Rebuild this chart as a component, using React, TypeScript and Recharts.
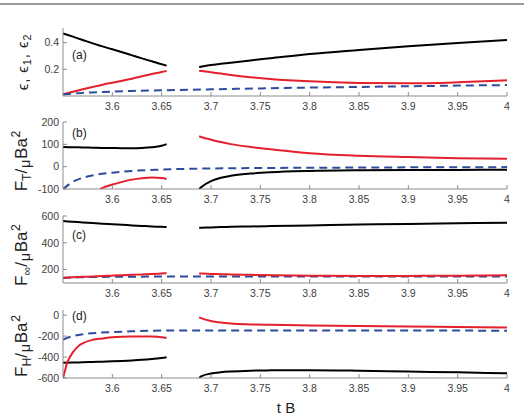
import React from 'react';
import { LineChart, Line, XAxis, YAxis } from 'recharts';

// Shared abscissae (t B)
const tLeft = [3.55, 3.56, 3.57, 3.58, 3.59, 3.6, 3.61, 3.62, 3.63, 3.64, 3.65, 3.655];
const tRight = [3.688, 3.69, 3.7, 3.71, 3.72, 3.74, 3.76, 3.8, 3.85, 3.9, 3.95, 4];
const tFull = [3.55, 3.56, 3.57, 3.58, 3.6, 3.62, 3.65, 3.7, 3.75, 3.8, 3.85, 3.9, 3.95, 4];
const tRedLeftB = [3.5875, 3.59, 3.6, 3.61, 3.62, 3.63, 3.64, 3.65, 3.655];
const tRedLeftD = [3.55, 3.552, 3.554, 3.557, 3.56, 3.565, 3.57, 3.58, 3.59, 3.6, 3.61, 3.62, 3.63, 3.64, 3.65, 3.655];

const xTicks = [3.6, 3.65, 3.7, 3.75, 3.8, 3.85, 3.9, 3.95, 4];

// (a) epsilon, epsilon1, epsilon2
const epsBlackL = [0.47, 0.445, 0.42, 0.395, 0.372, 0.35, 0.328, 0.305, 0.282, 0.26, 0.238, 0.228];
const epsRedL = [0.013, 0.032, 0.05, 0.068, 0.085, 0.1, 0.115, 0.13, 0.148, 0.165, 0.18, 0.188];
const epsBlackR = [0.218, 0.22, 0.232, 0.241, 0.25, 0.267, 0.283, 0.315, 0.345, 0.373, 0.398, 0.42];
const epsRedR = [0.19, 0.188, 0.178, 0.168, 0.158, 0.141, 0.128, 0.11, 0.098, 0.095, 0.103, 0.118];
const epsBlue = [0.012, 0.018, 0.023, 0.027, 0.033, 0.038, 0.043, 0.05, 0.057, 0.063, 0.068, 0.073, 0.078, 0.082];
const yTicksA = [0.2, 0.4];

// (b) F_T
const ftBlackL = [88, 87, 86, 85, 84, 83.5, 83, 83, 84, 87, 94, 101];
const ftRedL = [-100, -95, -80, -68, -58, -52, -49, -51, -55];
const ftBlue = [-100, -68, -50, -39, -27, -19, -13, -8, -6, -5, -4, -3, -2.5, -2];
const ftRedR = [136, 133, 121, 110, 101, 88, 78, 60, 49, 43, 38, 35];
const ftBlackR = [-100, -92, -65, -50, -41, -31, -25, -19, -16, -15, -14.5, -14];
const yTicksB = [-100, 0, 100, 200];

// (c) F_inf
const fiBlackL = [562, 557, 552, 547, 542, 538, 534, 530, 526, 522, 519, 517];
const fiRedL = [140, 143, 146, 149, 152, 155, 158, 161, 164, 167, 171, 173];
const fiBlue = [138, 141, 143, 145, 146, 147, 148, 148, 148, 148, 148, 148, 148, 148];
const fiBlackR = [513, 513, 515, 517, 519, 522, 525, 530, 536, 541, 546, 550];
const fiRedR = [170, 170, 168, 166, 164, 161, 158, 155, 153, 153, 155, 158];
const yTicksC = [200, 400, 600];

// (d) F_H
const fhRedL = [-600, -530, -460, -400, -355, -300, -268, -235, -222, -211, -206, -204, -203, -204, -210, -218];
const fhBlackL = [-455, -452, -450, -447, -444, -441, -437, -432, -426, -418, -408, -402];
const fhBlue = [-232, -200, -182, -172, -161, -154, -147, -146, -146, -146, -146, -147, -147, -148];
const fhRedR = [-20, -28, -55, -70, -80, -88, -92, -98, -103, -108, -113, -117];
const fhBlackR = [-600, -585, -557, -545, -538, -530, -527, -525, -530, -538, -546, -555];
const yTicksD = [-600, -400, -200, 0];

const BLACK = '#000000';
const RED = '#e3202b';
const BLUE = '#2c4c9c';
const AXIS = '#8c8c8c';
const TEXT = '#404040';
const FONT = '"Liberation Sans", Arial, Helvetica, sans-serif';

const zip = (ts: number[], vs: number[]) => ts.map((t, i) => ({ t, v: vs[i] }));

type Series = { data: { t: number; v: number }[]; color: string; dashed?: boolean };

const EmptyTick = () => <g />;

function Panel({ top, plotH, domain, yTicks, series }: { top: number; plotH: number; domain: [number, number]; yTicks: number[]; series: Series[] }) {
  const mt = 5;
  const xh = 20;
  const lineStyle = { stroke: AXIS };
  return (
    <div style={{ position: 'absolute', left: 0, top: top - mt, zIndex: 2 }}>
      <LineChart width={524} height={plotH + mt + xh} margin={{ top: mt, right: 17, bottom: 0, left: 23 }}>
        <XAxis xAxisId="b" type="number" dataKey="t" domain={[3.55, 4]} ticks={xTicks} allowDataOverflow
          height={xh} axisLine={lineStyle} tickLine={lineStyle} tickSize={-4} tickMargin={11}
          tick={{ fontSize: 10.5, fill: TEXT }} interval={0} />
        <XAxis xAxisId="t" orientation="top" type="number" dataKey="t" domain={[3.55, 4]} ticks={xTicks} allowDataOverflow
          height={0} axisLine={lineStyle} tickLine={lineStyle} tickSize={-4} tick={EmptyTick} interval={0} />
        <YAxis yAxisId="l" type="number" domain={domain} ticks={yTicks} allowDataOverflow width={40}
          axisLine={lineStyle} tickLine={lineStyle} tickSize={-4} tickMargin={8}
          tick={{ fontSize: 10.5, fill: TEXT }} interval={0} />
        <YAxis yAxisId="r" orientation="right" type="number" domain={domain} ticks={yTicks} allowDataOverflow width={0}
          axisLine={lineStyle} tickLine={lineStyle} tickSize={-4} tick={EmptyTick} interval={0} />
        {series.map((s, i) => (
          <Line key={i} xAxisId="b" yAxisId="l" data={s.data} dataKey="v" type="monotone" stroke={s.color}
            strokeWidth={2} strokeDasharray={s.dashed ? '8 5' : undefined} dot={false} activeDot={false}
            isAnimationActive={false} />
        ))}
      </LineChart>
    </div>
  );
}

const rotLabel = (cx: number, cy: number, content: React.ReactNode, size = 15) => (
  <div style={{ position: 'absolute', left: cx, top: cy, zIndex: 1, transform: 'translate(-50%, -50%) rotate(-90deg)', whiteSpace: 'nowrap', fontSize: size, color: '#222', lineHeight: 1, pointerEvents: 'none' }}>
    {content}
  </div>
);

const panelTag = (x: number, y: number, text: string) => (
  <div style={{ position: 'absolute', left: x, top: y, zIndex: 3, transform: 'translateY(-50%)', fontSize: 12, color: '#222', lineHeight: 1 }}>
    {text}
  </div>
);

const subStyle: React.CSSProperties = { fontSize: '0.72em', verticalAlign: '-0.3em' };
const supStyle: React.CSSProperties = { fontSize: '0.72em', verticalAlign: '0.6em', marginLeft: '0.05em' };
const muStyle: React.CSSProperties = { fontSize: '0.85em', verticalAlign: '-0.2em', margin: '0 0.05em' };

const forceLabel = (sub: string) => (
  <span>F<span style={subStyle}>{sub}</span>/<span style={muStyle}>μ</span>Ba<span style={supStyle}>2</span></span>
);

export default function App() {
  return (
    <div style={{ position: 'absolute', left: 0, top: 0, width: 524, height: 416, background: '#fff', fontFamily: FONT }}>
      <div style={{ position: 'absolute', left: 0, top: 3, width: 524, height: 2, background: '#9a9a9a' }} />
      {rotLabel(24, 62, <span style={{ letterSpacing: '0.06em' }}>ϵ, ϵ<span style={subStyle}>1</span>, ϵ<span style={subStyle}>2</span></span>, 15)}
      {rotLabel(22, 161, forceLabel('T'), 17)}
      {rotLabel(22, 255, forceLabel('∞'), 17)}
      {rotLabel(22, 346, forceLabel('H'), 17)}
      <Panel top={28} plotH={68} domain={[0, 0.51]} yTicks={yTicksA} series={[
        { data: zip(tLeft, epsBlackL), color: BLACK },
        { data: zip(tRight, epsBlackR), color: BLACK },
        { data: zip(tLeft, epsRedL), color: RED },
        { data: zip(tRight, epsRedR), color: RED },
        { data: zip(tFull, epsBlue), color: BLUE, dashed: true },
      ]} />
      <Panel top={122} plotH={67} domain={[-100, 200]} yTicks={yTicksB} series={[
        { data: zip(tLeft, ftBlackL), color: BLACK },
        { data: zip(tRight, ftBlackR), color: BLACK },
        { data: zip(tRedLeftB, ftRedL), color: RED },
        { data: zip(tRight, ftRedR), color: RED },
        { data: zip(tFull, ftBlue), color: BLUE, dashed: true },
      ]} />
      <Panel top={216} plotH={67} domain={[100, 600]} yTicks={yTicksC} series={[
        { data: zip(tLeft, fiBlackL), color: BLACK },
        { data: zip(tRight, fiBlackR), color: BLACK },
        { data: zip(tFull, fiBlue), color: BLUE, dashed: true },
        { data: zip(tLeft, fiRedL), color: RED },
        { data: zip(tRight, fiRedR), color: RED },
      ]} />
      <Panel top={310} plotH={68} domain={[-600, 50]} yTicks={yTicksD} series={[
        { data: zip(tLeft, fhBlackL), color: BLACK },
        { data: zip(tRight, fhBlackR), color: BLACK },
        { data: zip(tRedLeftD, fhRedL), color: RED },
        { data: zip(tRight, fhRedR), color: RED },
        { data: zip(tFull, fhBlue), color: BLUE, dashed: true },
      ]} />
      {panelTag(72, 55, '(a)')}
      {panelTag(72, 133, '(b)')}
      {panelTag(72, 235, '(c)')}
      {panelTag(72, 316, '(d)')}
      <div style={{ position: 'absolute', left: 286, top: 407, transform: 'translate(-50%, -50%)', fontSize: 15, color: '#222', lineHeight: 1 }}>t B</div>
    </div>
  );
}
